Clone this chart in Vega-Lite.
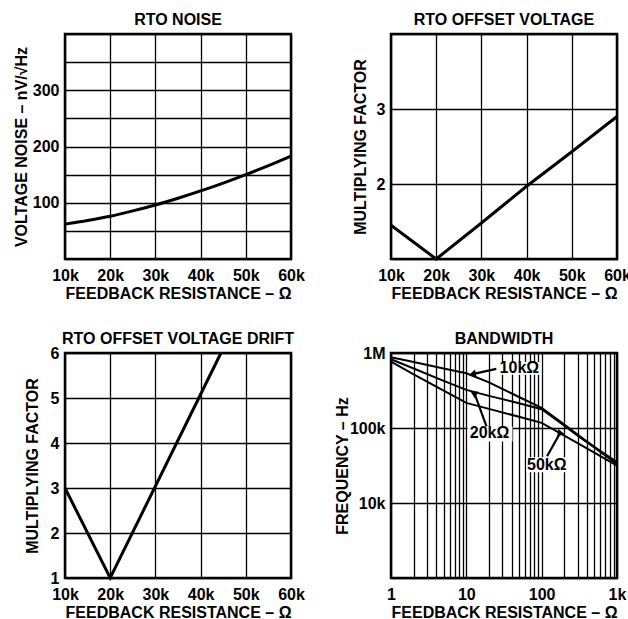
{
  "$schema": "https://vega.github.io/schema/vega-lite/v6.json",
  "padding": {"left": 12, "top": 10, "right": 0, "bottom": 0},
  "columns": 2,
  "bounds": "flush",
  "spacing": {"row": 94, "column": 100},
  "background": "white",
  "config": {
    "font": "Liberation Sans",
    "view": {"stroke": "black", "strokeWidth": 2.5},
    "axis": {
      "grid": true, "gridColor": "black", "gridOpacity": 1, "gridWidth": 1.3,
      "domain": false, "ticks": false,
      "labelFont": "Liberation Sans", "labelFontWeight": "bold", "labelFontSize": 16, "labelColor": "black",
      "titleFont": "Liberation Sans", "titleFontWeight": "bold", "titleFontSize": 16, "titleColor": "black",
      "labelFlush": false, "labelOverlap": false
    },
    "axisX": {"labelPadding": 8, "titlePadding": 2},
    "axisY": {"labelPadding": 6},
    "title": {"font": "Liberation Sans", "fontSize": 16, "fontWeight": "bold", "color": "black", "offset": -2, "anchor": "middle", "frame": "group"}
  },
  "datasets": {
    "noise": [
      {"r": 10000, "v": 62}, {"r": 15000, "v": 68.5}, {"r": 20000, "v": 76}, {"r": 25000, "v": 85.5},
      {"r": 30000, "v": 96}, {"r": 35000, "v": 108}, {"r": 40000, "v": 121}, {"r": 45000, "v": 135},
      {"r": 50000, "v": 150}, {"r": 55000, "v": 166}, {"r": 60000, "v": 183}
    ],
    "offset": [
      {"r": 10000, "m": 1.45}, {"r": 20000, "m": 1.0}, {"r": 30000, "m": 1.48},
      {"r": 40000, "m": 1.97}, {"r": 50000, "m": 2.43}, {"r": 60000, "m": 2.9}
    ],
    "drift": [
      {"r": 10000, "m": 3}, {"r": 20000, "m": 1}, {"r": 44500, "m": 6}
    ],
    "bw": [
      {"s": "10k", "x": 1, "f": 877000}, {"s": "10k", "x": 2, "f": 757000}, {"s": "10k", "x": 5, "f": 622000},
      {"s": "10k", "x": 10, "f": 537000}, {"s": "10k", "x": 20, "f": 406000}, {"s": "10k", "x": 50, "f": 259000},
      {"s": "10k", "x": 100, "f": 186000}, {"s": "10k", "x": 200, "f": 111000},
      {"s": "10k", "x": 300, "f": 82000}, {"s": "10k", "x": 500, "f": 56000}, {"s": "10k", "x": 1000, "f": 35000},
      {"s": "20k", "x": 1, "f": 825000}, {"s": "20k", "x": 2, "f": 622000}, {"s": "20k", "x": 5, "f": 425000},
      {"s": "20k", "x": 10, "f": 322000}, {"s": "20k", "x": 20, "f": 268000}, {"s": "20k", "x": 50, "f": 214000},
      {"s": "20k", "x": 100, "f": 178000}, {"s": "20k", "x": 200, "f": 107000},
      {"s": "20k", "x": 300, "f": 79000}, {"s": "20k", "x": 500, "f": 55000}, {"s": "20k", "x": 1000, "f": 33000},
      {"s": "50k", "x": 1, "f": 767000}, {"s": "50k", "x": 2, "f": 520000}, {"s": "50k", "x": 5, "f": 315000},
      {"s": "50k", "x": 10, "f": 216000}, {"s": "50k", "x": 20, "f": 180000}, {"s": "50k", "x": 50, "f": 141000},
      {"s": "50k", "x": 100, "f": 117000}, {"s": "50k", "x": 200, "f": 79000},
      {"s": "50k", "x": 300, "f": 63000}, {"s": "50k", "x": 500, "f": 47000}, {"s": "50k", "x": 1000, "f": 31500}
    ],
    "labels": [
      {"label": "10kΩ", "tx": 50.6, "ty": 632000, "bx1": 26, "bx2": 99, "by1": 760000, "by2": 512000, "ax": 25, "ay": 614000, "hx": 12.5, "hy": 527000},
      {"label": "20kΩ", "tx": 20.3, "ty": 84500, "bx1": 10.4, "bx2": 41, "by1": 105000, "by2": 66000, "ax": 18.5, "ay": 105000, "hx": 12.9, "hy": 285000},
      {"label": "50kΩ", "tx": 117, "ty": 32000, "bx1": 63, "bx2": 218, "by1": 40600, "by2": 25700, "ax": 118, "ay": 42000, "hx": 175, "hy": 85000}
    ]
  },
  "concat": [
    {
      "title": "RTO NOISE",
      "width": 226, "height": 225,
      "data": {"name": "noise"},
      "mark": {"type": "line", "color": "black", "strokeWidth": 3, "interpolate": "monotone"},
      "encoding": {
        "x": {"field": "r", "type": "quantitative", "scale": {"domain": [10000, 60000]},
              "axis": {"values": [10000, 20000, 30000, 40000, 50000, 60000], "labelExpr": "(datum.value/1000) + 'k'", "title": "FEEDBACK RESISTANCE – Ω"}},
        "y": {"field": "v", "type": "quantitative", "scale": {"domain": [0, 400]},
              "axis": {"values": [0, 50, 100, 150, 200, 250, 300, 350, 400], "labelExpr": "(datum.value==100||datum.value==200||datum.value==300) ? datum.label : ''", "title": "VOLTAGE NOISE – nV/√Hz", "titlePadding": 3}}
      }
    },
    {
      "title": "RTO OFFSET VOLTAGE",
      "width": 226, "height": 225,
      "data": {"name": "offset"},
      "mark": {"type": "line", "color": "black", "strokeWidth": 3},
      "encoding": {
        "x": {"field": "r", "type": "quantitative", "scale": {"domain": [10000, 60000]},
              "axis": {"values": [10000, 20000, 30000, 40000, 50000, 60000], "labelExpr": "(datum.value/1000) + 'k'", "title": "FEEDBACK RESISTANCE – Ω"}},
        "y": {"field": "m", "type": "quantitative", "scale": {"domain": [1, 4]},
              "axis": {"values": [1, 2, 3, 4], "labelExpr": "(datum.value==2||datum.value==3) ? datum.label : ''", "title": "MULTIPLYING FACTOR", "titlePadding": 8}}
      }
    },
    {
      "title": "RTO OFFSET VOLTAGE DRIFT",
      "width": 226, "height": 225,
      "data": {"name": "drift"},
      "mark": {"type": "line", "color": "black", "strokeWidth": 3},
      "encoding": {
        "x": {"field": "r", "type": "quantitative", "scale": {"domain": [10000, 60000]},
              "axis": {"values": [10000, 20000, 30000, 40000, 50000, 60000], "labelExpr": "(datum.value/1000) + 'k'", "title": "FEEDBACK RESISTANCE – Ω"}},
        "y": {"field": "m", "type": "quantitative", "scale": {"domain": [1, 6]},
              "axis": {"values": [1, 2, 3, 4, 5, 6], "title": "MULTIPLYING FACTOR", "titlePadding": 9.5}}
      }
    },
    {
      "title": "BANDWIDTH",
      "width": 226, "height": 225,
      "layer": [
        {
          "data": {"name": "bw"},
          "mark": {"type": "line", "color": "black", "strokeWidth": 2},
          "encoding": {
            "x": {"field": "x", "type": "quantitative", "scale": {"type": "log", "domain": [1, 1000]},
                  "axis": {"values": [1,2,3,4,5,6,7,8,9,10,20,30,40,50,60,70,80,90,100,200,300,400,500,600,700,800,900,1000],
                           "labelExpr": "datum.value==1 ? '1' : datum.value==10 ? '10' : datum.value==100 ? '100' : datum.value==1000 ? '1k' : ''",
                           "title": "FEEDBACK RESISTANCE – Ω"}},
            "y": {"field": "f", "type": "quantitative", "scale": {"type": "log", "domain": [1000, 1000000]},
                  "axis": {"values": [1000, 10000, 100000, 1000000],
                           "labelExpr": "datum.value==1000000 ? '1M' : datum.value==100000 ? '100k' : datum.value==10000 ? '10k' : ''",
                           "title": "FREQUENCY – Hz", "titlePadding": -1}},
            "detail": {"field": "s"}
          }
        },
        {
          "data": {"name": "labels"},
          "mark": {"type": "rect", "color": "white"},
          "encoding": {
            "x": {"field": "bx1", "type": "quantitative"},
            "x2": {"field": "bx2"},
            "y": {"field": "by1", "type": "quantitative"},
            "y2": {"field": "by2"}
          }
        },
        {
          "data": {"name": "labels"},
          "mark": {"type": "text", "color": "black", "fontSize": 16, "fontWeight": "bold", "font": "Liberation Sans", "align": "center", "baseline": "middle"},
          "encoding": {
            "x": {"field": "tx", "type": "quantitative"},
            "y": {"field": "ty", "type": "quantitative"},
            "text": {"field": "label"}
          }
        },
        {
          "data": {"name": "labels"},
          "mark": {"type": "rule", "color": "black", "strokeWidth": 2.2},
          "encoding": {
            "x": {"field": "ax", "type": "quantitative"},
            "y": {"field": "ay", "type": "quantitative"},
            "x2": {"field": "hx"},
            "y2": {"field": "hy"}
          }
        },
        {
          "data": {"name": "labels"},
          "mark": {"type": "point", "shape": "triangle", "filled": true, "color": "black", "size": 60, "opacity": 1},
          "encoding": {
            "x": {"field": "hx", "type": "quantitative"},
            "y": {"field": "hy", "type": "quantitative"},
            "angle": {"field": "label", "type": "nominal", "scale": {"domain": ["10kΩ", "20kΩ", "50kΩ"], "range": [258, 339, 32]}, "legend": null}
          }
        }
      ]
    }
  ]
}
